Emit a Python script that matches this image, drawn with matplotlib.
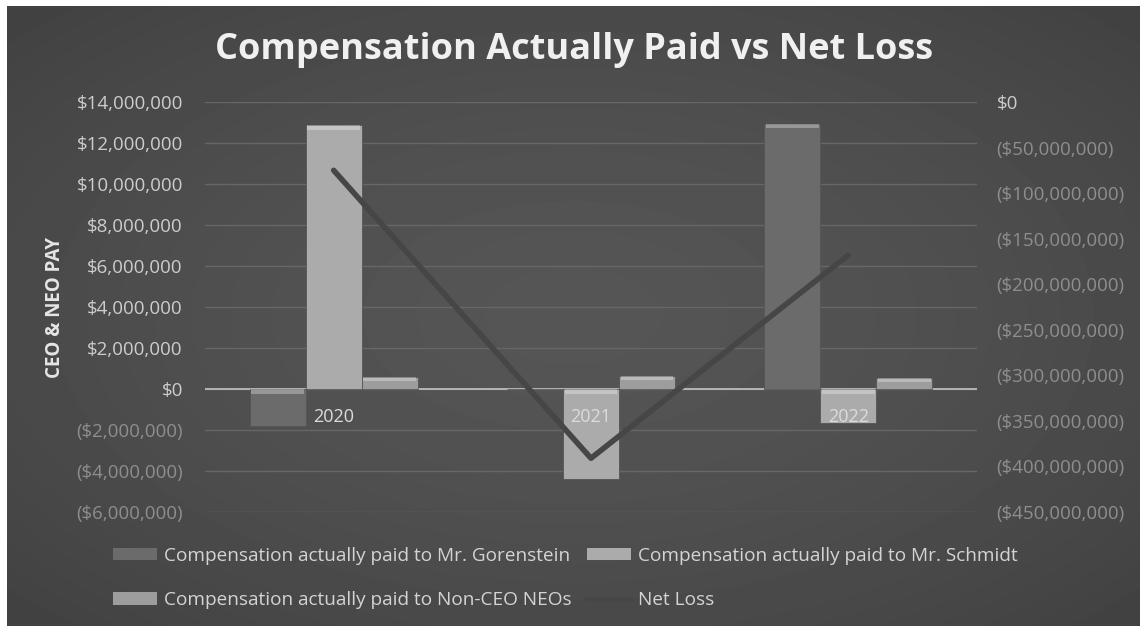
import matplotlib.pyplot as plt
from matplotlib.patches import Patch
from matplotlib.lines import Line2D
import numpy as np

plt.rcParams['font.family'] = ['Open Sans', 'DejaVu Sans']

years = ['2020', '2021', '2022']
cap_gorenstein = [-1_800_000, 0, 12_950_000]
cap_schmidt = [12_870_000, -4_400_000, -1_650_000]
cap_non_ceo = [590_000, 640_000, 540_000]
net_loss = [-75_000_000, -391_000_000, -168_000_000]

left_ticks = list(range(-6_000_000, 14_000_001, 2_000_000))
right_ticks = list(range(-450_000_000, 1, 50_000_000))

series = [
    ('Compensation actually paid to Mr. Gorenstein', cap_gorenstein, '#6b6b6b'),
    ('Compensation actually paid to Mr. Schmidt', cap_schmidt, '#ababab'),
    ('Compensation actually paid to Non-CEO NEOs', cap_non_ceo, '#9d9d9d'),
]
line_color = '#464646'


def money(v):
    if v < 0:
        return '(${:,.0f})'.format(-v)
    return '${:,.0f}'.format(v)


fig = plt.figure(figsize=(11.4, 6.26), dpi=100, facecolor='white')

# dark chart area, a little lighter towards the middle
bg = fig.add_axes([7 / 1140, 0, 1 - 7 / 1140, 1 - 6 / 626], zorder=-10)
yy, xx = np.mgrid[-1:1:200j, -1:1:360j]
r = np.sqrt(xx ** 2 + yy ** 2) / np.sqrt(2)
bg.imshow(0.335 - 0.08 * r ** 1.5, cmap='gray', vmin=0, vmax=1,
          aspect='auto', extent=[0, 1, 0, 1], interpolation='bicubic')
bg.axis('off')

ax = fig.add_axes([205 / 1140, 1 - 512 / 626, 772 / 1140, 410 / 626])
ax.patch.set_alpha(0)
x = np.arange(len(years))
w = 0.218

for i, (name, vals, col) in enumerate(series):
    off = (i - 1) * w
    ax.bar(x + off, vals, w, color=col, edgecolor='#555555', linewidth=0.6,
           zorder=3)
    # bevel highlight along the upper end of each bar
    tops = [max(v, 0) for v in vals]
    ax.bar(x + off, [-220_000 if v != 0 else 0 for v in vals], w * 0.94,
           bottom=tops, color='white', alpha=0.3, linewidth=0, zorder=4)

ax.set_xlim(-0.5, 2.5)
ax.set_ylim(left_ticks[0], left_ticks[-1])
ax.set_yticks(left_ticks)
ax.set_yticklabels([money(v) for v in left_ticks])
for lab, v in zip(ax.get_yticklabels(), left_ticks):
    lab.set_color('#8e8e8e' if v < 0 else '#cdcdcd')
ax.tick_params(axis='y', length=0, pad=16, labelsize=13.5)
ax.set_xticks([])
ax.grid(axis='y', color='#676767', linewidth=1, zorder=0)
ax.axhline(0, color='#c4c4c4', linewidth=1.2, zorder=2)
for s in ax.spines.values():
    s.set_visible(False)

for xi, yr in zip(x, years):
    ax.annotate(yr, (xi, 0), xytext=(0, -20), textcoords='offset points',
                ha='center', va='center', fontsize=13, color='#dcdcdc',
                zorder=6)

ax.set_ylabel('CEO & NEO PAY', color='#e6e6e6', fontsize=13.5,
              fontweight='bold', labelpad=8)

ax2 = ax.twinx()
ax2.plot(x, net_loss, color=line_color, linewidth=4, solid_capstyle='round',
         zorder=5)
ax2.set_ylim(right_ticks[0], right_ticks[-1])
ax2.set_yticks(right_ticks)
ax2.set_yticklabels([money(v) for v in right_ticks])
for lab, v in zip(ax2.get_yticklabels(), right_ticks):
    lab.set_color('#8e8e8e' if v < 0 else '#cdcdcd')
ax2.tick_params(axis='y', length=0, pad=14, labelsize=13.5)
for s in ax2.spines.values():
    s.set_visible(False)

fig.text(0.504, 1 - 50 / 626, 'Compensation Actually Paid vs Net Loss',
         ha='center', va='center', fontsize=26, fontweight='bold',
         color='#f0f0f0')

handles = [
    Patch(facecolor=series[0][2], label=series[0][0]),
    Patch(facecolor=series[2][2], label=series[2][0]),
    Patch(facecolor=series[1][2], label=series[1][0]),
    Line2D([], [], color=line_color, linewidth=3, label='Net Loss'),
]
leg = fig.legend(handles=handles, ncol=2, loc='center left',
                 bbox_to_anchor=(96 / 1140, 1 - 578 / 626), frameon=False,
                 fontsize=13.7, labelcolor='#d4d4d4', handlelength=2.3,
                 handleheight=0.65, handletextpad=0.35, columnspacing=0.85,
                 labelspacing=1.4)

fig.savefig('out.png', dpi=100, facecolor=fig.get_facecolor())
